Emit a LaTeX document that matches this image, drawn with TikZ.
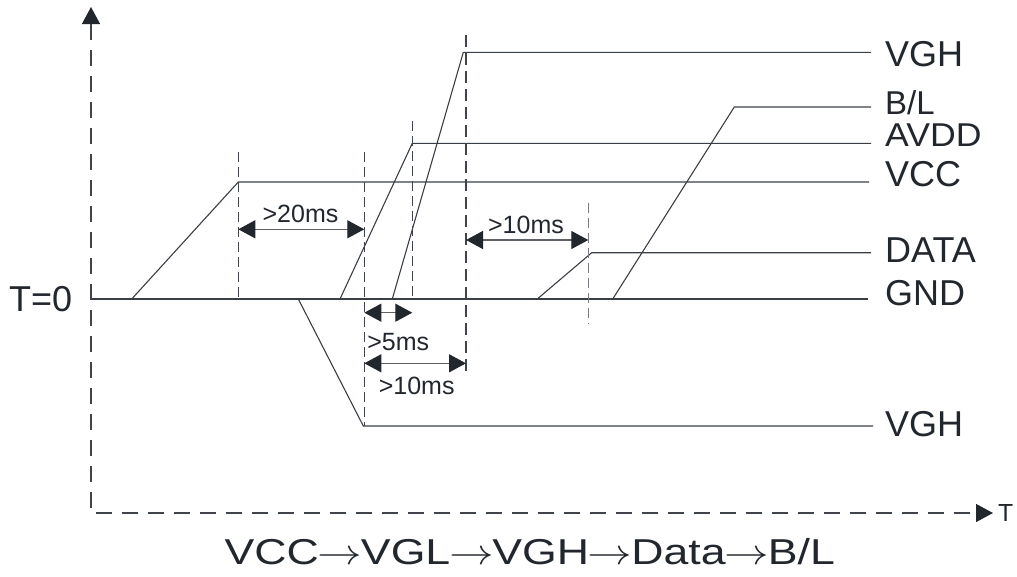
\RequirePackage{fix-cm}
\documentclass[tikz,border=0pt]{standalone}
\usepackage{fontspec}
\setmainfont{Liberation Sans}
\usetikzlibrary{arrows.meta}
\definecolor{txtc}{HTML}{22272D}
\definecolor{sigc}{HTML}{3A3F45}
\definecolor{dashc}{HTML}{40454B}
\definecolor{lightdash}{HTML}{7A7E82}
\definecolor{dimc}{HTML}{5E6266}
\definecolor{headc}{HTML}{22272D}
\begin{document}
\begin{tikzpicture}[x=1pt,y=-1pt,
  sig/.style={draw=sigc, line width=1.1pt, line join=miter},
  guide/.style={draw=dashc, line width=1.2pt, dash pattern=on 10pt off 5pt},
  axisline/.style={draw=dashc, line width=1.3pt, dash pattern=on 16pt off 10pt},
  headtip/.style={arrows={Triangle[length=17pt,width=18pt,color=headc]-Triangle[length=17pt,width=18pt,color=headc]}},
  dim/.style={draw=dimc, line width=1.3pt, headtip},
  lbl/.style={font=\fontsize{36}{40}\selectfont, text=txtc, inner sep=0pt, anchor=base west},
  small/.style={font=\fontsize{25}{28}\selectfont, text=txtc, inner sep=0pt, anchor=base},
]
\useasboundingbox (0,0) rectangle (1017,576);

% axes
\coordinate (ytip) at (91,7);
\coordinate (orig) at (91,513);
\coordinate (xtip) at (993,513);
\draw[axisline, headtip] (ytip) -- (orig) -- (xtip);

% GND
\coordinate (g0) at (91,299);
\coordinate (g1) at (868,299);
\draw[sig] (g0) -- (g1);

% VCC
\coordinate (c0) at (131.7,299);
\coordinate (c1) at (238.3,182);
\coordinate (c2) at (869,182);
\draw[sig] (c0) -- (c1) -- (c2);

% AVDD
\coordinate (a0) at (340,299);
\coordinate (a1) at (412.3,143.3);
\coordinate (a2) at (871,143.3);
\draw[sig] (a0) -- (a1) -- (a2);

% VGH
\coordinate (h0) at (392.3,299);
\coordinate (h1) at (463.3,52.3);
\coordinate (h2) at (871,52.3);
\draw[sig] (h0) -- (h1) -- (h2);

% DATA
\coordinate (d0) at (537.3,299);
\coordinate (d1) at (591.7,252.7);
\coordinate (d2) at (871,252.7);
\draw[sig] (d0) -- (d1) -- (d2);

% B/L
\coordinate (b0) at (612.7,299);
\coordinate (b1) at (734.3,107);
\coordinate (b2) at (871,107);
\draw[sig] (b0) -- (b1) -- (b2);

% VGL
\coordinate (l0) at (298.3,299);
\coordinate (l1) at (363.3,426);
\coordinate (l2) at (873,426);
\draw[sig] (l0) -- (l1) -- (l2);

% guides
\coordinate (v1t) at (238.3,152); \coordinate (v1b) at (238.3,299);
\coordinate (v2t) at (364.3,152); \coordinate (v2b) at (364.3,426);
\coordinate (v3t) at (412.3,120.7); \coordinate (v3b) at (412.3,299);
\coordinate (v4t) at (466,35); \coordinate (v4b) at (466,372);
\coordinate (v5t) at (588.3,203); \coordinate (v5b) at (588.3,324);
\draw[guide] (v1t) -- (v1b);
\draw[guide] (v2t) -- (v2b);
\draw[guide] (v3t) -- (v3b);
\draw[guide, line width=1.6pt, dash pattern=on 12pt off 6pt] (v4t) -- (v4b);
\draw[guide, draw=lightdash] (v5t) -- (v5b);

% dimensions
\coordinate (m1a) at (238.3,229.3); \coordinate (m1b) at (364.3,229.3);
\coordinate (m2a) at (466,240); \coordinate (m2b) at (588.3,240);
\coordinate (m3a) at (364.3,312.7); \coordinate (m3b) at (412.3,312.7);
\coordinate (m4a) at (364.3,363.3); \coordinate (m4b) at (466,363.3);
\draw[dim] (m1a) -- (m1b);
\draw[dim] (m2a) -- (m2b);
\draw[dim] (m3a) -- (m3b);
\draw[dim] (m4a) -- (m4b);

\node[small] (t20) at (300.5,222.7) {>20ms};
\node[small] (t10a) at (526,233.3) {>10ms};
\node[small] (t5) at (398.3,350.7) {>5ms};
\node[small] (t10b) at (416.7,394) {>10ms};

% right labels
\node[lbl] (nVGH) at (885,66.7) {VGH};
\node[lbl, font=\fontsize{33}{36}\selectfont] (nBL) at (885,114.5) {B/L};
\node[lbl, font=\fontsize{33}{36}\selectfont] (nAVDD) at (885,146.5) {\scalebox{1.08}[1]{AVDD}};
\node[lbl] (nVCC) at (885,186.7) {VCC};
\node[lbl] (nDATA) at (885,262.7) {DATA};
\node[lbl] (nGND) at (885,305) {GND};
\node[lbl] (nVGL) at (885,436.7) {VGH};

\node[lbl] (nT0) at (9,311) {T=0};
\node[lbl, font=\fontsize{24.7}{28}\selectfont] (nT) at (998,521.7) {T};

\node[lbl, anchor=base] (title) at (529.7,564.3) {\scalebox{1.24}[1]{VCC\kern-1pt$\rightarrow$\kern-1ptVGL\kern-1pt$\rightarrow$\kern-1ptVGH\kern-1pt$\rightarrow$\kern-1ptData\kern-1pt$\rightarrow$\kern-1ptB/L}};
\end{tikzpicture}
\end{document}
